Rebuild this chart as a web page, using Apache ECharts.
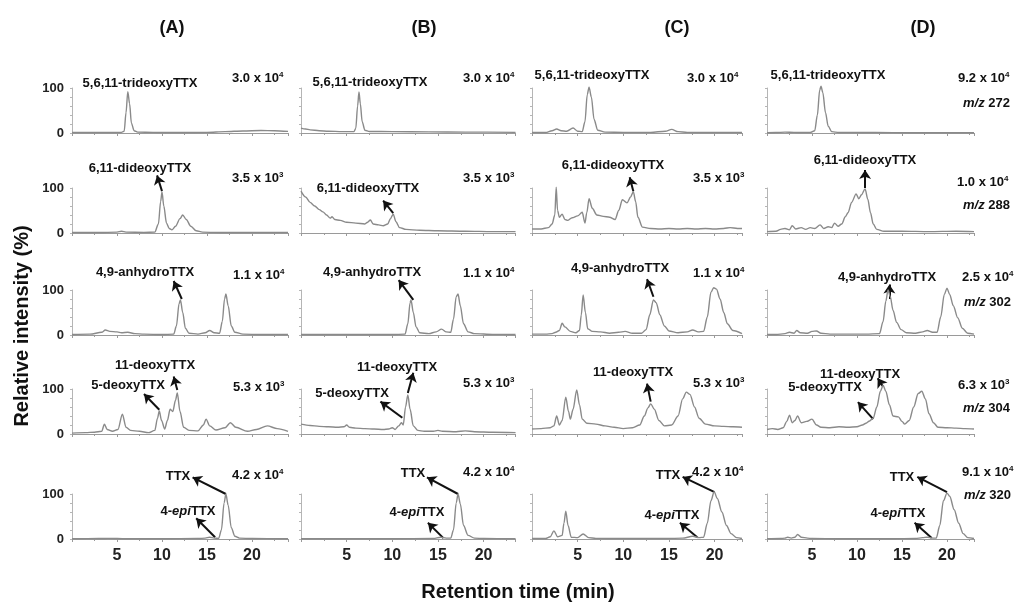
<!DOCTYPE html>
<html><head><meta charset="utf-8">
<script src="https://cdn.jsdelivr.net/npm/echarts@6/dist/echarts.min.js"></script>
<style>html,body{margin:0;padding:0;background:#fff}#c{width:1018px;height:608px}</style>
</head><body><div id="c"></div>
<script>
// ---------- DATA ----------
const panelTitles = ['(A)','(B)','(C)','(D)'];
const xTickLabels = [5,10,15,20];
const yTickLabels = [0,100];

// chromatograms: [retention time (min), relative intensity (%)]
const A1=[[0,1],[2,1],[4,1],[5.5,1.5],[5.8,4],[6.0,45],[6.2,92],[6.4,65],[6.6,22],[6.9,5],[7.3,2],[9,1.5],[12,1],[15,1.5],[17,3],[19,4.5],[21,5.5],[22.5,5],[24,3.5]];
const A2=[[0,1],[3,1],[5,2],[5.5,4],[6,2],[8,1.5],[9.2,2],[9.6,20],[9.85,70],[10.0,91],[10.2,60],[10.5,22],[10.8,10],[11.1,7],[11.5,15],[12.0,32],[12.3,40],[12.7,30],[13.2,15],[13.8,5],[14.5,2],[17,1],[20,1],[24,1]];
const A3=[[0,1],[2,2],[3.3,6],[3.7,11],[4.2,8],[5,7],[5.5,5],[6.2,6],[7,3],[8,2],[10,1],[11.3,2],[11.6,20],[11.9,70],[12.05,78],[12.3,50],[12.6,15],[13,4],[14,2],[14.8,5],[15.3,10],[15.8,5],[16.4,4],[16.7,30],[16.95,80],[17.1,91],[17.35,65],[17.7,20],[18.1,6],[19,2],[21,1],[24,1]];
const A4=[[0,2],[1.5,3],[2.5,4],[3.3,6],[3.6,22],[3.9,10],[4.5,6],[5.1,10],[5.6,44],[6.0,15],[6.5,8],[7.5,6],[8.5,3],[9.2,8],[9.5,35],[9.7,51],[9.95,30],[10.3,11],[10.6,30],[10.9,55],[11.2,50],[11.5,75],[11.7,91],[12.0,50],[12.4,15],[13,8],[14,7],[14.6,20],[14.9,33],[15.3,18],[16,9],[17,14],[17.6,25],[18.2,15],[19.5,6],[20.5,10],[21.7,18],[22.8,12],[24,6]];
const A5=[[0,0.5],[3,1],[4,1.5],[6,0.5],[10,0.5],[14,1],[14.8,2],[15.3,4],[15.8,2],[16.3,1.5],[16.6,20],[16.9,80],[17.1,100],[17.35,75],[17.7,25],[18.1,6],[18.6,2],[20,1],[24,0.5]];

const B1=[[0,11],[0.5,9],[1,7],[2,5],[3,4],[4.5,3],[5.8,3],[6.0,10],[6.2,60],[6.35,91],[6.5,65],[6.7,25],[7.0,6],[7.5,3.5],[10,3],[14,2.5],[18,2],[23.5,1.5]];
const B2=[[0,93],[0.5,80],[1,68],[1.5,60],[2,52],[2.4,47],[2.8,40],[3.2,33],[3.4,36],[3.7,30],[4.3,28],[5,24],[6,22],[7,20],[7.3,24],[7.6,29],[7.9,20],[8.5,18],[9,16],[9.5,20],[9.8,32],[10.1,42],[10.4,25],[10.8,12],[11.5,8],[13,6],[15,5],[18,4],[21,3],[23.5,3]];
const B3=[[0,1],[5,1],[10,1],[11.4,2],[11.7,25],[11.95,72],[12.05,78],[12.3,50],[12.6,18],[13,5],[14,3],[14.8,7],[15.4,13],[15.9,7],[16.4,6],[16.7,35],[17.0,85],[17.2,91],[17.45,65],[17.8,25],[18.3,7],[19,3],[21,1.5],[23.5,1]];
const B4=[[0,22],[1,19],[2,17],[3,16],[4,15],[4.7,16],[5.0,20],[5.3,15],[6,13],[7,12],[8,11],[9,10],[9.6,11],[10,14],[10.3,10],[10.7,18],[11.0,25],[11.2,20],[11.45,60],[11.7,87],[11.95,55],[12.3,18],[12.8,8],[13.5,6],[14.5,6],[15,8],[15.5,6],[17,5],[18,7],[19,5],[21,4],[23.5,3]];
const B5=[[0,0.5],[5,0.5],[10,0.5],[14.5,1],[15.3,4],[15.9,2],[16.4,2],[16.7,20],[17.0,80],[17.2,100],[17.45,78],[17.8,30],[18.3,8],[19,2],[20,1],[23.5,0.5]];

const C1=[[0,1],[1.5,1],[2.2,5],[2.7,9],[3.2,5],[3.8,4],[4.5,11],[5.0,4],[5.5,3],[5.8,25],[6.05,85],[6.25,102],[6.5,80],[6.8,30],[7.2,6],[8,2],[10,1.5],[13,1.5],[14.6,4],[15.3,8],[16,3],[17,1.5],[20,1],[23,1]];
const C2=[[0,9],[1,9],[1.8,12],[2.2,20],[2.5,40],[2.65,102],[2.8,50],[3.0,35],[3.3,42],[3.6,30],[3.9,28],[4.4,34],[5.0,38],[5.5,46],[5.8,22],[6.0,45],[6.25,76],[6.6,55],[7.1,40],[7.8,37],[8.5,35],[9.1,30],[9.5,50],[9.9,74],[10.4,67],[10.8,80],[11.1,92],[11.35,70],[11.6,35],[12.1,13],[13,10],[14,9],[15,10],[16,9],[17,10],[18,9],[19,10],[20,9],[21,10],[21.7,12],[22.5,10],[23,10]];
const C3=[[0,2],[1.5,2],[2.2,3],[2.6,6],[3.0,10],[3.3,26],[3.6,18],[4.2,8],[4.8,5],[5.2,10],[5.4,45],[5.6,89],[5.85,50],[6.1,14],[6.6,8],[7.5,7],[8.5,4],[9.5,6],[10.2,8],[11,4],[12,4],[12.5,12],[12.9,45],[13.3,78],[13.6,72],[14.0,45],[14.5,20],[15,9],[16,5],[17,7],[17.6,11],[18.2,7],[18.8,8],[19.2,40],[19.6,95],[19.9,105],[20.2,102],[20.6,80],[21.0,50],[21.4,25],[22,10],[23,3]];
const C4=[[0,11],[1,12],[2,14],[2.4,18],[2.7,40],[3.0,20],[3.3,30],[3.7,82],[4.0,50],[4.2,33],[4.5,55],[4.9,98],[5.2,65],[5.5,33],[6,24],[7,22],[8,18],[9,15],[10,12],[11,14],[11.8,20],[12.3,40],[12.7,58],[13.0,67],[13.4,55],[13.9,30],[14.5,18],[15.3,20],[16,40],[16.5,78],[16.9,93],[17.3,88],[17.8,60],[18.3,35],[19,22],[20,18],[21,17],[22,16],[23,15]];
const C5=[[0,1],[1.5,1],[2.0,5],[2.4,18],[2.8,5],[3.3,8],[3.5,35],[3.7,62],[3.95,30],[4.3,4],[5,3],[5.6,11],[6.2,3],[7,1.5],[10,1],[14,1],[16.5,2],[17.6,6],[18.3,3],[18.8,4],[19.2,35],[19.6,85],[19.95,105],[20.3,90],[20.8,60],[21.3,30],[21.8,12],[22.4,3],[23,1]];

const D1=[[0,0.5],[1,1],[2,2],[3,1.5],[4,1],[4.8,1],[5.3,5],[5.6,40],[5.85,95],[6.0,104],[6.2,90],[6.5,45],[6.8,15],[7.2,3],[8,1],[12,1],[16,0.5],[23,0.5]];
const D2=[[0,3],[1,4],[1.5,8],[2,10],[2.5,7],[2.8,16],[3.2,9],[3.8,12],[4.3,8],[4.8,12],[5.3,10],[5.9,18],[6.3,10],[6.8,14],[7.2,12],[7.5,22],[7.9,15],[8.3,20],[8.7,36],[9.0,45],[9.4,68],[9.9,87],[10.2,76],[10.5,85],[10.9,98],[11.2,75],[11.5,45],[11.8,20],[12.2,8],[13,4],[15,4],[18,3],[21,4],[23,3]];
const D3=[[0,1],[1,1],[2,3],[2.5,6],[3.0,4],[3.3,10],[3.7,5],[4.5,4],[5.0,8],[5.5,9],[6,4],[7,2],[9,2],[11,2],[12.5,3],[12.9,30],[13.2,75],[13.45,100],[13.7,85],[14.0,55],[14.4,28],[14.9,12],[15.5,5],[16.5,4],[17.3,7],[17.8,10],[18.4,6],[18.9,6],[19.3,40],[19.7,90],[20.0,104],[20.3,90],[20.7,65],[21.2,38],[21.7,15],[22.3,4],[23,2]];
const D4=[[0,10],[0.6,12],[1.2,10],[1.8,14],[2.2,28],[2.5,42],[2.8,25],[3.1,30],[3.4,40],[3.8,25],[4.4,28],[5.0,33],[5.5,20],[6.0,15],[7,14],[8,16],[9,15],[10,16],[10.6,20],[11.0,24],[11.4,29],[11.8,35],[12.2,60],[12.6,95],[12.9,108],[13.2,95],[13.6,65],[14.0,40],[14.6,38],[15.0,28],[15.3,22],[15.8,30],[16.3,60],[16.8,90],[17.2,95],[17.6,78],[18.0,45],[18.5,25],[19,15],[20,14],[21,13],[22,12],[23,11]];
const D5=[[0,0.5],[1.5,1],[2.0,2],[2.3,4],[2.7,2],[3.1,4],[3.4,10],[3.8,4],[4.5,2],[5,1],[8,0.5],[14,0.5],[16.5,1],[17.3,3],[17.8,4],[18.4,2],[18.8,2],[19.2,30],[19.6,85],[20.0,102],[20.3,95],[20.8,65],[21.3,35],[21.8,12],[22.3,3],[23,1]];

// arrows: [tail (peak), head] in (min, %)
const arrA2=[[[10.0,93],[9.45,128]]];
const arrA3=[[[12.2,80],[11.3,120]]];
const arrA4=[[[9.7,54],[8.0,89]],[[11.7,98],[11.3,128]]];
const arrA5=[[[17.1,100],[13.4,137]],[[15.9,4],[13.8,46]]];
const arrB2=[[[10.1,44],[9.0,72]]];
const arrB3=[[[12.3,78],[10.7,122]]];
const arrB4=[[[11.1,36],[8.7,72]],[[11.7,91],[12.3,136]]];
const arrB5=[[[17.2,100],[13.8,137]],[[15.6,2],[13.9,36]]];
const arrC2=[[[11.1,93],[10.7,124]]];
const arrC3=[[[13.3,85],[12.6,124]]];
const arrC4=[[[13.0,72],[12.6,112]]];
const arrC5=[[[20.0,104],[16.5,138]],[[18.1,4],[16.2,36]]];
const arrD2=[[[10.9,100],[10.9,140]]];
const arrD3=[[[13.6,80],[13.6,112]]];
const arrD4=[[[11.8,33],[10.1,71]],[[12.9,105],[12.3,124]]];
const arrD5=[[[20.0,104],[16.7,138]],[[18.3,2],[16.4,36]]];

const series = [[A1,A2,A3,A4,A5],[B1,B2,B3,B4,B5],[C1,C2,C3,C4,C5],[D1,D2,D3,D4,D5]];
const arrows = [[[],arrA2,arrA3,arrA4,arrA5],[[],arrB2,arrB3,arrB4,arrB5],[[],arrC2,arrC3,arrC4,arrC5],[[],arrD2,arrD3,arrD4,arrD5]];

// text annotations
const compoundLabels = [
 [140,83,'5,6,11-trideoxyTTX'],[140,168,'6,11-dideoxyTTX'],[145,272,'4,9-anhydroTTX'],[155,365,'11-deoxyTTX'],[128,385,'5-deoxyTTX'],[178,476,'TTX'],[188,511,'4-{i|epi}TTX'],
 [370,82,'5,6,11-trideoxyTTX'],[368,188,'6,11-dideoxyTTX'],[372,272,'4,9-anhydroTTX'],[397,367,'11-deoxyTTX'],[352,393,'5-deoxyTTX'],[413,473,'TTX'],[417,512,'4-{i|epi}TTX'],
 [592,75,'5,6,11-trideoxyTTX'],[613,165,'6,11-dideoxyTTX'],[620,268,'4,9-anhydroTTX'],[633,372,'11-deoxyTTX'],[668,475,'TTX'],[672,515,'4-{i|epi}TTX'],
 [828,75,'5,6,11-trideoxyTTX'],[865,160,'6,11-dideoxyTTX'],[887,277,'4,9-anhydroTTX'],[860,374,'11-deoxyTTX'],[825,387,'5-deoxyTTX'],[902,477,'TTX'],[898,513,'4-{i|epi}TTX']
];
const intensityLabels = [
 [232,78,'3.0','4'],[232,178,'3.5','3'],[233,275,'1.1','4'],[233,387,'5.3','3'],[232,475,'4.2','4'],
 [463,78,'3.0','4'],[463,178,'3.5','3'],[463,273,'1.1','4'],[463,383,'5.3','3'],[463,472,'4.2','4'],
 [687,78,'3.0','4'],[693,178,'3.5','3'],[693,273,'1.1','4'],[693,383,'5.3','3'],[692,472,'4.2','4'],
 [958,78,'9.2','4'],[957,182,'1.0','4'],[962,277,'2.5','4'],[958,385,'6.3','3'],[962,472,'9.1','4']
];
const mzLabels = [[963,103,'272'],[963,205,'288'],[964,302,'302'],[963,408,'304'],[964,495,'320']];

// ---------- LAYOUT ----------
const colLeft = [72, 301, 532, 767];
const colXMax = [24, 23.5, 23, 23];
const pxPerMin = [9, 9.13, 9.13, 9];
const rowBase = [133, 233, 335, 434, 539];
const plotH = 45;
const titleX = [172, 424, 677, 923];
const FONT = 'Arial, "Liberation Sans", sans-serif';
const lineColor = '#8a8a8a';
const axisColor = '#9a9a9a';

const grids=[], xAxes=[], yAxes=[], allSeries=[];
for (let c=0;c<4;c++){
  for (let r=0;r<5;r++){
    const idx=c*5+r;
    grids.push({left:colLeft[c], top:rowBase[r]-plotH, width:colXMax[c]*pxPerMin[c], height:plotH});
    xAxes.push({type:'value', gridIndex:idx, min:0, max:colXMax[c], interval:5,
      axisLine:{show:true, lineStyle:{color:axisColor, width:1}},
      axisTick:{show:true, length:3, lineStyle:{color:axisColor}},
      minorTick:{show:true, splitNumber:2, length:2, lineStyle:{color:axisColor}},
      splitLine:{show:false},
      axisLabel:{show:r===4, showMaxLabel:false, showMinLabel:false, margin:9,
        formatter:v=>xTickLabels.includes(v)?String(v):'',
        fontFamily:FONT, fontWeight:'bold', fontSize:16, color:'#222'}});
    yAxes.push({type:'value', gridIndex:idx, min:0, max:100, interval:100,
      axisLine:{show:true, lineStyle:{color:'#b5b5b5', width:1}},
      axisTick:{show:true, length:2, lineStyle:{color:'#b5b5b5'}},
      minorTick:{show:true, splitNumber:5, length:2, lineStyle:{color:'#b5b5b5'}},
      splitLine:{show:false},
      axisLabel:{show:c===0, margin:8, formatter:v=>yTickLabels.includes(v)?String(v):'',
        fontFamily:FONT, fontWeight:'bold', fontSize:13, color:'#222'}});
    allSeries.push({type:'line', xAxisIndex:idx, yAxisIndex:idx, data:series[c][r],
      showSymbol:false, symbol:'none', smooth:0.3, smoothMonotone:'x', clip:false,
      lineStyle:{color:lineColor, width:1.4}, silent:true, animation:false});
    if (arrows[c][r].length){
      allSeries.push({type:'lines', coordinateSystem:'cartesian2d', xAxisIndex:idx, yAxisIndex:idx,
        data:arrows[c][r].map(a=>({coords:a})), symbol:['none','arrow'], symbolSize:9, clip:false,
        lineStyle:{color:'#111', width:2, opacity:1, curveness:0}, silent:true, animation:false});
    }
  }
}

const richBase = {i:{fontStyle:'italic', fontWeight:'bold', fontSize:13, fontFamily:FONT, fill:'#111'}};
const graphics = [];
panelTitles.forEach((t,i)=>graphics.push({type:'text', x:titleX[i], y:28,
  style:{text:t, font:'bold 18px '+FONT, fill:'#111', align:'center', verticalAlign:'middle'}}));
graphics.push({type:'text', x:22, y:326, rotation:Math.PI/2,
  style:{text:'Relative intensity (%)', font:'bold 20px '+FONT, fill:'#111', align:'center', verticalAlign:'middle'}});
graphics.push({type:'text', x:518, y:592,
  style:{text:'Retention time (min)', font:'bold 20px '+FONT, fill:'#111', align:'center', verticalAlign:'middle'}});
compoundLabels.forEach(([x,y,t])=>graphics.push({type:'text', x, y,
  style:{text:t, font:'bold 13px '+FONT, fill:'#111', align:'center', verticalAlign:'middle', rich:richBase}}));
intensityLabels.forEach(([x,y,m,e])=>graphics.push({type:'text', x, y,
  style:{text:m+' x 10{s|'+e+'}', font:'bold 13px '+FONT, fill:'#111', align:'left', verticalAlign:'middle',
    rich:{s:{fontSize:8, fontWeight:'bold', fontFamily:FONT, fill:'#111', verticalAlign:'top', padding:[0,0,7,0]}}}}));
mzLabels.forEach(([x,y,t])=>graphics.push({type:'text', x, y,
  style:{text:'{i|m/z} '+t, font:'bold 13px '+FONT, fill:'#111', align:'left', verticalAlign:'middle', rich:richBase}}));

const chart = echarts.init(document.getElementById('c'), null, {renderer:'canvas'});
chart.setOption({animation:false, backgroundColor:'#fff', grid:grids, xAxis:xAxes, yAxis:yAxes, series:allSeries, graphic:graphics});
</script></body></html>
